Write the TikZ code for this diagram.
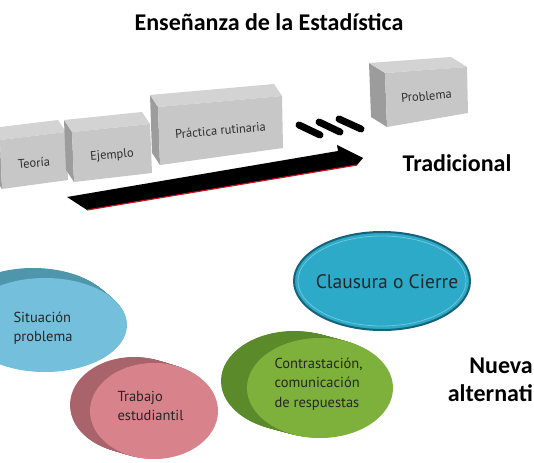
\documentclass[tikz,border=0pt]{standalone}
\usepackage{fontspec}
\setmainfont{PT Sans}
\newfontfamily\headfont{Carlito}
\usetikzlibrary{calc, positioning}

\definecolor{blockfront}{HTML}{C7C7C7}
\definecolor{blockside}{HTML}{9C9C9C}
\definecolor{blocktop}{HTML}{D3D3D3}
\definecolor{labelgrey}{HTML}{2E2E2E}
\definecolor{sitfront}{HTML}{74C0DC}
\definecolor{sitback}{HTML}{4F96AD}
\definecolor{trabfront}{HTML}{D8838B}
\definecolor{trabback}{HTML}{A9636B}
\definecolor{contfront}{HTML}{7EB13B}
\definecolor{contback}{HTML}{5A8A2A}
\definecolor{claufill}{HTML}{2CAAC8}
\definecolor{clauline}{HTML}{16627A}
\definecolor{clauring}{HTML}{6CC6DC}
\definecolor{barred}{HTML}{D0101C}

% grey 3D block: name, four corners of the front face, depth, label
\newcommand{\greyblock}[7]{%
  \coordinate (#1-a) at #2; \coordinate (#1-b) at #3;
  \coordinate (#1-c) at #4; \coordinate (#1-d) at #5;
  \fill[blockside] (#1-a) -- (#1-d) -- ($(#1-d)+#6$) -- ($(#1-a)+#6$) -- cycle;
  \fill[blocktop] (#1-a) -- (#1-b) -- ($(#1-b)+#6$) -- ($(#1-a)+#6$) -- cycle;
  \fill[blockfront] (#1-a) -- (#1-b) -- (#1-c) -- (#1-d) -- cycle;
  \node[blocklabel] (#1) at ($(#1-a)!0.5!(#1-c)+(0,3)$) {#7};
}
% extruded disc: name, centre, x radius, y radius, depth, back colour, front colour
\newcommand{\extdisc}[7]{%
  \foreach \s in {1,0.95,...,0.04}
    \fill[#6] ($#2+\s*#5$) ellipse [x radius=#3, y radius=#4];
  \fill[#7] #2 ellipse [x radius=#3, y radius=#4];
  \coordinate (#1) at #2;
}

\begin{document}
\begin{tikzpicture}[
    x=1pt, y=-1pt,
    blocklabel/.style={font=\fontsize{12.5}{14}\selectfont, text=labelgrey, rotate=5},
    disctext/.style={font=\fontsize{14.5}{19.5}\selectfont, text=black!85, align=left},
    heading/.style={font=\headfont\bfseries\fontsize{24}{28}\selectfont, align=center},
    dashbar/.style={line width=7pt, line cap=round}
  ]
  \useasboundingbox (0,0) rectangle (534,462);
  \clip (0,0) rectangle (534,462);

  % --- title ---
  \node[heading] (title) at (269,22) {Enseñanza de la Estadística};

  % --- traditional sequence ---
  \greyblock{teoria}{(0,140)}{(66,132)}{(68,180)}{(2,189)}{(-8,-12)}{Teoría}
  \greyblock{ejemplo}{(72,132)}{(150,124)}{(152,173)}{(74,182)}{(-8,-12)}{Ejemplo}
  \greyblock{practica}{(158,107)}{(282,96)}{(283,148)}{(160,165)}{(-8,-12)}{Práctica rutinaria}
  \greyblock{problema}{(385,73)}{(467,67)}{(468,113)}{(387,127)}{(-16,-10)}{Problema}

  \draw[dashbar] (299,125) -- (320,135);
  \draw[dashbar] (319,122) -- (340,132);
  \draw[dashbar] (339,119) -- (361,129);

  \coordinate (barstart) at (87,210);
  \coordinate (barend) at (357,165);
  \fill[black] (67,197) -- (338,151) -- (337,145) -- (363,158) -- (barend) -- (barstart) -- cycle;
  \draw[barred, line width=1.2pt] (barstart) -- (barend);

  \node[heading] (tradicional) at (457,163) {Tradicional};

  % --- new alternative ---
  \extdisc{situacion}{(45,325)}{82}{47}{(-12,-10)}{sitback}{sitfront}
  \extdisc{trabajo}{(154,411)}{64}{48}{(-20,-6)}{trabback}{trabfront}
  \extdisc{contraste}{(320,388)}{73}{50}{(-26,-7)}{contback}{contfront}
  \filldraw[fill=claufill, draw=clauline, line width=2pt] (382,281) ellipse [x radius=88, y radius=49];
  \draw[clauring, line width=0.8pt] (382,281) ellipse [x radius=84, y radius=45];
  \coordinate (clausura) at (382,281);

  \node[disctext, anchor=west] at (10,328) {Situación\\problema};
  \node[disctext, anchor=west] at (114,406) {Trabajo\\estudiantil};
  \node[disctext, anchor=west] at (271,384) {Contrastación,\\comunicación\\de respuestas};
  \node[disctext, font=\fontsize{19.5}{22}\selectfont] at (387,282) {Clausura o Cierre};

  \node[heading, align=right, anchor=east, inner sep=1pt] (nueva) at (534,380) {Nueva\\alternati};
\end{tikzpicture}
\end{document}
